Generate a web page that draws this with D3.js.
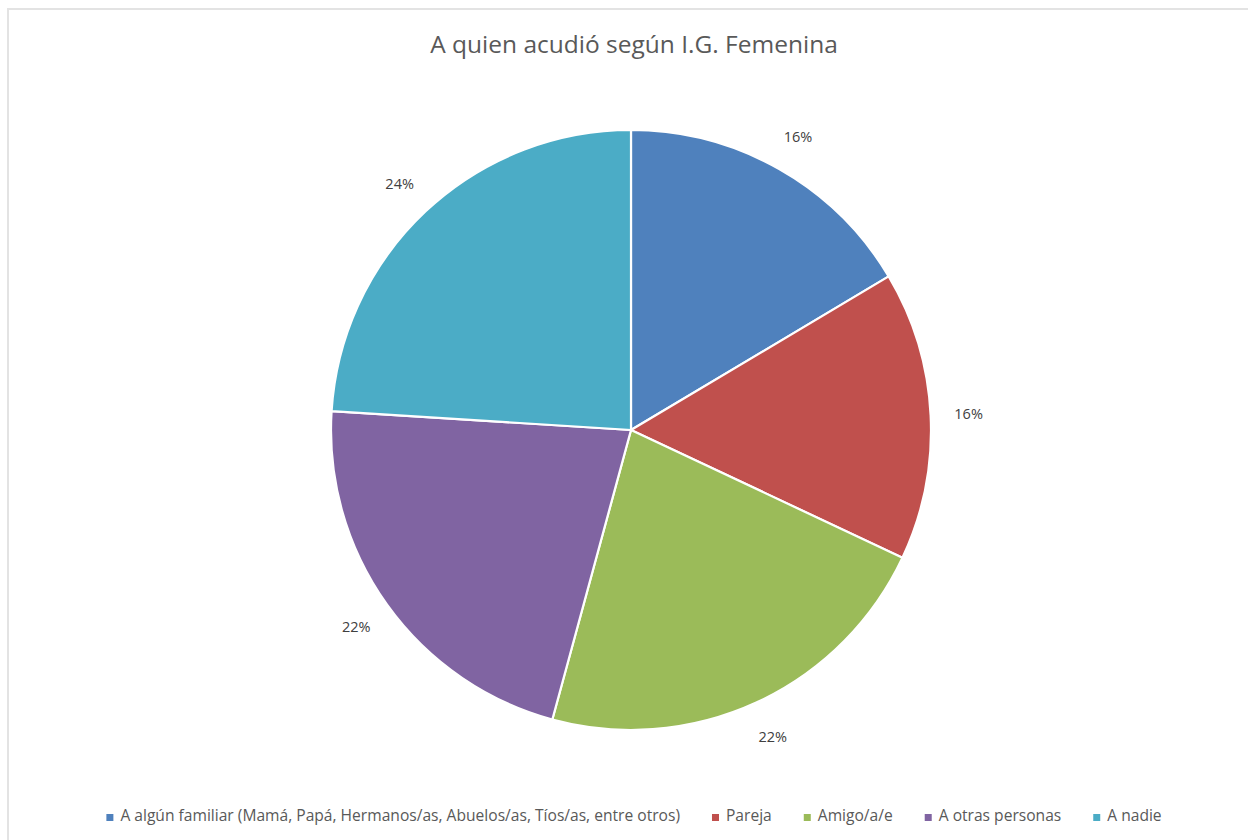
<!DOCTYPE html>
<html>
<head>
<meta charset="utf-8">
<script src="https://cdn.jsdelivr.net/npm/d3@7"></script>
<style>
  html, body { margin: 0; padding: 0; background: #fff; }
  svg { display: block; }
</style>
</head>
<body>
<svg id="chart" width="1248" height="840"></svg>
<script>
// Responses: whom they turned to (I.G. Femenina)
const categories = [
  "A algún familiar (Mamá, Papá, Hermanos/as, Abuelos/as, Tíos/as, entre otros)",
  "Pareja",
  "Amigo/a/e",
  "A otras personas",
  "A nadie"
];
const counts = [37, 35, 50, 49, 54];
const colors = ["#4F81BD", "#C0504D", "#9BBB59", "#8064A2", "#4BACC6"];
const title = "A quien acudió según I.G. Femenina";

const W = 1248, H = 840;
const cx = 631, cy = 430, radius = 300, labelRadius = 338;
const font = "'Open Sans', Carlito, Calibri, sans-serif";

const svg = d3.select("#chart");

// chart area frame
svg.append("rect")
  .attr("x", 8).attr("y", 9)
  .attr("width", W + 10).attr("height", H + 10)
  .attr("fill", "#fff")
  .attr("stroke", "#e3e3e3").attr("stroke-width", 2);

svg.append("text")
  .attr("x", 634).attr("y", 53)
  .attr("text-anchor", "middle")
  .attr("font-family", font)
  .attr("font-size", 24.5)
  .attr("fill", "#595959")
  .text(title);

const total = d3.sum(counts);
const pie = d3.pie().sort(null).value(d => d)(counts);
const arc = d3.arc().innerRadius(0).outerRadius(radius);
const labelArc = d3.arc().innerRadius(labelRadius).outerRadius(labelRadius);
const pct = d3.format(".0%");

const g = svg.append("g").attr("transform", `translate(${cx},${cy})`);

g.selectAll("path.slice")
  .data(pie)
  .join("path")
  .attr("class", "slice")
  .attr("d", arc)
  .attr("fill", (d, i) => colors[i])
  .attr("stroke", "#fff")
  .attr("stroke-width", 2.2)
  .attr("stroke-linejoin", "round");

g.selectAll("text.lbl")
  .data(pie)
  .join("text")
  .attr("class", "lbl")
  .attr("transform", d => `translate(${labelArc.centroid(d)})`)
  .attr("text-anchor", "middle")
  .attr("dominant-baseline", "central")
  .attr("font-family", font)
  .attr("font-size", 14.5)
  .attr("fill", "#404040")
  .text(d => pct(d.value / total));

// legend along the bottom, centred
const legend = svg.append("g");
const items = legend.selectAll("g.item")
  .data(categories)
  .join("g")
  .attr("class", "item");

items.append("rect")
  .attr("width", 7).attr("height", 7)
  .attr("y", -7)
  .attr("fill", (d, i) => colors[i]);

items.append("text")
  .attr("x", 14)
  .attr("y", 0)
  .attr("font-family", font)
  .attr("font-size", 15.6)
  .attr("fill", "#595959")
  .text(d => d);

const gap = 32;
let x = 0;
items.each(function () {
  const node = d3.select(this);
  node.attr("transform", `translate(${x},0)`);
  x += this.getBBox().width + gap;
});
const totalW = x - gap;
legend.attr("transform", `translate(${634 - totalW / 2},821)`);
</script>
</body>
</html>
